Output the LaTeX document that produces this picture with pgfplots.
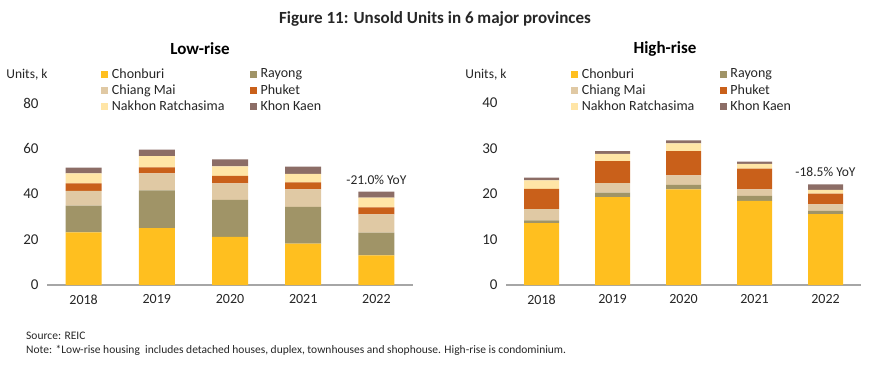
\documentclass[border=0pt]{standalone}
\usepackage{pgfplots}
\pgfplotsset{compat=1.18}
\usepackage{pgfplotstable}
\usepackage{fontspec}
\setmainfont{Carlito}
\definecolor{cChon}{HTML}{FFBF1F}
\definecolor{cRay}{HTML}{A09467}
\definecolor{cChi}{HTML}{E0C9A4}
\definecolor{cPhu}{HTML}{C9601A}
\definecolor{cNak}{HTML}{FFE5A6}
\definecolor{cKho}{HTML}{8C6D66}
\definecolor{axgray}{HTML}{A6A6A6}
\definecolor{txt}{HTML}{262626}

\pgfplotstableread{
x Chon Ray Chi Phu Nak Kho
0 23.1 11.8 6.5 3.3 4.4 2.5
1 25.0 16.6 7.5 2.6 5.0 2.8
2 21.2 16.2 7.3 3.3 4.1 3.1
3 18.2 16.1 7.7 3.1 3.7 3.2
4 13.0 10.0 8.0 3.1 4.3 2.6
}\lowrise
\pgfplotstableread{
x Chon Ray Chi Phu Nak Kho
0 13.6 0.6 2.5 4.4 1.9 0.6
1 19.3 1.0 2.1 4.8 1.6 0.6
2 21.0 1.0 2.1 5.3 1.7 0.7
3 18.5 1.1 1.4 4.6 1.0 0.5
4 15.6 0.7 1.4 2.4 0.8 1.2
}\highrise

\pgfplotsset{
  mystyle/.style={
    scale only axis,
    anchor=south west,
    ybar stacked,
    xmin=-0.5, xmax=4.5,
    ymin=0,
    xtick=data,
    xticklabels={2018,2019,2020,2021,2022},
    axis x line=bottom,
    axis y line=left,
    x axis line style={-, draw=axgray, line width=1.6pt},
    y axis line style={draw=none},
    tick style={draw=none},
    major tick length=0pt,
    clip=false,
    /pgf/number format/assume math mode=true,
    ticklabel style={font=\fontsize{14}{16}\selectfont, text=txt},
    yticklabel style={font=\fontsize{15}{17}\selectfont, xshift=-5pt},
    xticklabel style={yshift=-6pt},
    legend columns=2,
    legend cell align=left,
    legend style={draw=none, fill=none, font=\fontsize{14}{16}\selectfont,
      anchor=north west, row sep=2pt, text=txt,
      /tikz/every odd column/.append style={column sep=2pt},
      /tikz/every even column/.append style={column sep=24pt},
      nodes={inner sep=1.5pt}},
    legend image code/.code={\fill[##1] (0pt,-3.5pt) rectangle (7pt,3.5pt);},
  }
}

\begin{document}
\begin{tikzpicture}
\useasboundingbox (0,0) rectangle (870pt,-366pt);

\node[font=\bfseries\fontsize{17}{20}\selectfont, text=txt] at (435pt,-19pt) {Figure 11: Unsold Units in 6 major provinces};
\node[font=\bfseries\fontsize{17}{20}\selectfont, text=black] at (200pt,-49pt) {Low-rise};
\node[font=\bfseries\fontsize{17}{20}\selectfont, text=black] at (665pt,-49pt) {High-rise};
\node[font=\fontsize{13.5}{15}\selectfont, text=txt] at (27pt,-75pt) {Units,\ k};
\node[font=\fontsize{13.5}{15}\selectfont, text=txt] at (486pt,-75pt) {Units,\ k};

\begin{axis}[mystyle, at={(47pt,-285pt)}, width=366pt, height=182pt,
  ymax=80, ytick={0,20,40,60,80}, bar width=36pt,
  legend style={at={(0.14,1.21)}}]
\addplot[fill=cChon, draw=none] table[x=x,y=Chon]{\lowrise};
\addplot[fill=cRay, draw=none] table[x=x,y=Ray]{\lowrise};
\addplot[fill=cChi, draw=none] table[x=x,y=Chi]{\lowrise};
\addplot[fill=cPhu, draw=none] table[x=x,y=Phu]{\lowrise};
\addplot[fill=cNak, draw=none] table[x=x,y=Nak]{\lowrise};
\addplot[fill=cKho, draw=none] table[x=x,y=Kho]{\lowrise};
\legend{Chonburi,Rayong,Chiang Mai,Phuket,Nakhon Ratchasima,Khon Kaen}
\node[font=\fontsize{13.5}{15}\selectfont, text=txt] at (axis cs:4,46.3) {-21.0\% YoY};
\end{axis}

\begin{axis}[mystyle, at={(506pt,-285pt)}, width=355pt, height=182pt,
  ymax=40, ytick={0,10,20,30,40}, bar width=35pt,
  legend style={at={(0.175,1.21)}}]
\addplot[fill=cChon, draw=none] table[x=x,y=Chon]{\highrise};
\addplot[fill=cRay, draw=none] table[x=x,y=Ray]{\highrise};
\addplot[fill=cChi, draw=none] table[x=x,y=Chi]{\highrise};
\addplot[fill=cPhu, draw=none] table[x=x,y=Phu]{\highrise};
\addplot[fill=cNak, draw=none] table[x=x,y=Nak]{\highrise};
\addplot[fill=cKho, draw=none] table[x=x,y=Kho]{\highrise};
\legend{Chonburi,Rayong,Chiang Mai,Phuket,Nakhon Ratchasima,Khon Kaen}
\node[font=\fontsize{13.5}{15}\selectfont, text=txt] at (axis cs:4,24.8) {-18.5\% YoY};
\end{axis}

\node[anchor=west, font=\fontsize{11.5}{13}\selectfont, text=txt, inner sep=0pt] at (26pt,-336pt) {Source: REIC};
\node[anchor=west, font=\fontsize{11.5}{13}\selectfont, text=txt, inner sep=0pt] at (26pt,-350pt) {Note: *Low-rise housing\ \ includes detached houses, duplex, townhouses and shophouse. High-rise is condominium.};
\end{tikzpicture}
\end{document}
